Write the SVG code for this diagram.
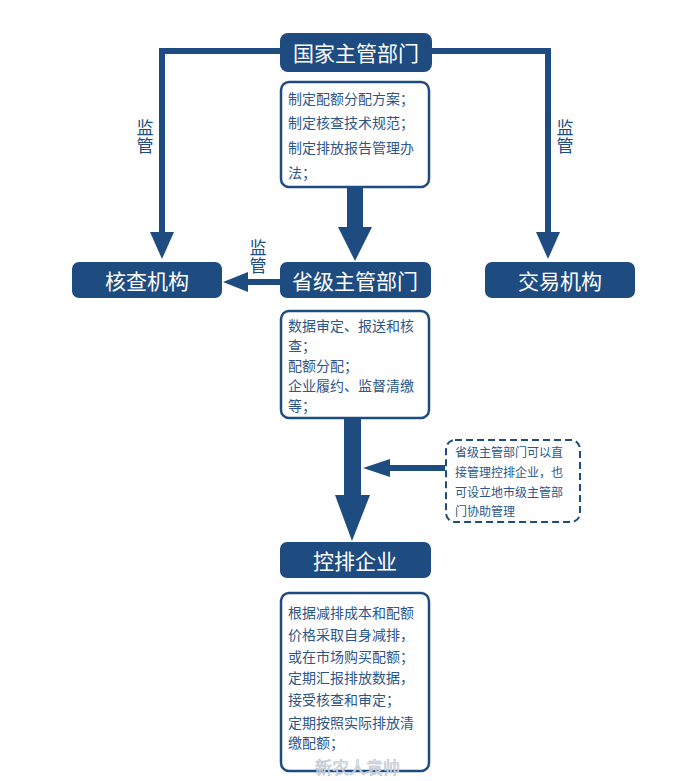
<svg xmlns="http://www.w3.org/2000/svg" width="700" height="781" viewBox="0 0 700 781">
<style>
.node{fill:#1e4b80}
.nt{fill:#ffffff;font-family:"Noto Sans CJK SC",sans-serif;font-size:21px;text-anchor:middle;dominant-baseline:central}
.box{fill:#ffffff;stroke:#1e4b80;stroke-width:2.5}
.bt{fill:#2c5688;font-family:"Noto Sans CJK SC",sans-serif;font-size:14px}
.st{fill:#2c5688;font-family:"Noto Sans CJK SC",sans-serif;font-size:12px}
.lbl{fill:#1e4b80;font-family:"Noto Sans CJK SC",sans-serif;font-size:17px;writing-mode:vertical-rl;letter-spacing:1px}
.ln{fill:none;stroke:#1e4b80;stroke-width:6}
.ar{fill:#1e4b80}
</style>
<rect width="700" height="781" fill="#ffffff"/>
<g id="connectors">
  <polyline class="ln" points="280,51 162,51 162,234"/>
  <polygon class="ar" points="150,232 174,232 162,259"/>
  <polyline class="ln" points="432,51 548,51 548,234"/>
  <polygon class="ar" points="536,232 560,232 548,259"/>
  <rect class="ar" x="347" y="187" width="16" height="41"/>
  <polygon class="ar" points="338,227 372,227 355,261"/>
  <line class="ln" x1="280" y1="282" x2="245" y2="282"/>
  <polygon class="ar" points="248,272 248,292 223,282"/>
  <rect class="ar" x="344" y="418" width="17" height="78"/>
  <polygon class="ar" points="335,495 370,495 352,541"/>
  <line class="ln" x1="445" y1="468" x2="385" y2="468" stroke-width="7"/>
  <polygon class="ar" points="390,459 390,477 363,468"/>
  <text class="lbl" x="145" y="119">监管</text>
  <text class="lbl" x="565" y="119">监管</text>
  <text class="lbl" x="258" y="239">监管</text>
</g>
<g id="n-guojia">
  <rect class="node" x="280" y="33" width="152" height="39" rx="8"/>
  <text class="nt" x="356" y="52">国家主管部门</text>
</g>
<g id="n-box1">
  <rect class="box" x="281" y="82" width="148" height="105" rx="8"/>
  <text class="bt" x="288" y="104">制定配额分配方案；</text>
  <text class="bt" x="288" y="128">制定核查技术规范；</text>
  <text class="bt" x="288" y="153">制定排放报告管理办</text>
  <text class="bt" x="288" y="178">法；</text>
</g>
<g id="n-hecha">
  <rect class="node" x="72" y="262" width="150" height="36" rx="7"/>
  <text class="nt" x="147" y="280">核查机构</text>
</g>
<g id="n-shengji">
  <rect class="node" x="280" y="262" width="151" height="36" rx="7"/>
  <text class="nt" x="355" y="280">省级主管部门</text>
</g>
<g id="n-jiaoyi">
  <rect class="node" x="485" y="262" width="150" height="36" rx="7"/>
  <text class="nt" x="560" y="280">交易机构</text>
</g>
<g id="n-box2">
  <rect class="box" x="281" y="311" width="148" height="107" rx="8"/>
  <text class="bt" x="288" y="331">数据审定、报送和核</text>
  <text class="bt" x="288" y="351">查；</text>
  <text class="bt" x="288" y="371">配额分配；</text>
  <text class="bt" x="288" y="391">企业履约、监督清缴</text>
  <text class="bt" x="288" y="411">等；</text>
</g>
<g id="n-note">
  <rect x="446" y="440" width="134" height="82" rx="9" fill="#ffffff" stroke="#1e4b80" stroke-width="2" stroke-dasharray="7,4"/>
  <text class="st" x="455" y="457">省级主管部门可以直</text>
  <text class="st" x="455" y="477">接管理控排企业，也</text>
  <text class="st" x="455" y="497">可设立地市级主管部</text>
  <text class="st" x="455" y="516">门协助管理</text>
</g>
<g id="n-kongpai">
  <rect class="node" x="280" y="542" width="151" height="36" rx="7"/>
  <text class="nt" x="355" y="560">控排企业</text>
</g>
<g id="n-box3">
  <rect class="box" x="281" y="593" width="148" height="178" rx="8"/>
  <text class="bt" x="288" y="618">根据减排成本和配额</text>
  <text class="bt" x="288" y="640">价格采取自身减排，</text>
  <text class="bt" x="288" y="662">或在市场购买配额；</text>
  <text class="bt" x="288" y="683">定期汇报排放数据，</text>
  <text class="bt" x="288" y="705">接受核查和审定；</text>
  <text class="bt" x="288" y="728">定期按照实际排放清</text>
  <text class="bt" x="288" y="748">缴配额；</text>
  <text x="315" y="774" font-family="Noto Sans CJK SC,sans-serif" font-size="17" fill="#e4e8ee" stroke="#b8c0cc" stroke-width="0.6">新农人袁帅</text>
</g>
</svg>
